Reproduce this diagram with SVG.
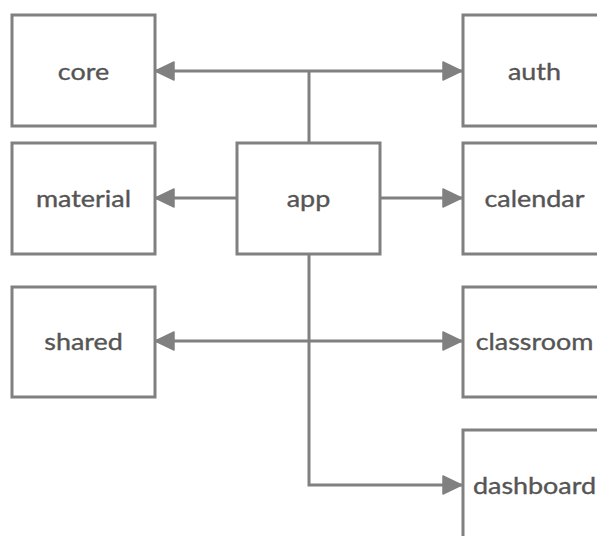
<svg xmlns="http://www.w3.org/2000/svg" width="597" height="536" viewBox="0 0 597 536">
  <style>
    .box { fill: #ffffff; stroke: #808080; stroke-width: 3; }
    .label { font-family: Lato, "Open Sans", sans-serif; font-size: 23px; fill: #555555; stroke: #555555; stroke-width: 0.35; text-anchor: middle; }
    .wire { fill: none; stroke: #808080; stroke-width: 3; }
  </style>
  <defs>
    <marker id="head" viewBox="0 0 20 20" refX="20" refY="10" markerWidth="20" markerHeight="20" markerUnits="userSpaceOnUse" orient="auto-start-reverse">
      <path d="M1,1 L20,10 L1,19 Z" fill="#808080" stroke="#808080" stroke-width="1.5" stroke-linejoin="round"/>
    </marker>
  </defs>
  <rect width="597" height="536" fill="#ffffff"/>

  <g id="connectors">
    <!-- core <-> auth, fed from app top -->
    <path class="wire" d="M155,71 L462,71" marker-start="url(#head)" marker-end="url(#head)"/>
    <path class="wire" d="M309,143 L309,71"/>
    <!-- app -> material / calendar -->
    <path class="wire" d="M237,198 L155,198" marker-end="url(#head)"/>
    <path class="wire" d="M380,198 L462,198" marker-end="url(#head)"/>
    <!-- shared <-> classroom -->
    <path class="wire" d="M155,341 L462,341" marker-start="url(#head)" marker-end="url(#head)"/>
    <!-- app -> dashboard -->
    <path class="wire" d="M309,254 L309,485 L462,485" marker-end="url(#head)"/>
  </g>

  <g id="core"><rect class="box" x="12" y="15" width="143" height="111"/><text class="label" transform="translate(83.5,79.5) scale(1.17,1)">core</text></g>
  <g id="auth"><rect class="box" x="463" y="15" width="143" height="111"/><text class="label" transform="translate(534.5,79.5) scale(1.17,1)">auth</text></g>
  <g id="material"><rect class="box" x="12" y="143" width="143" height="111"/><text class="label" transform="translate(83.5,206.5) scale(1.17,1)">material</text></g>
  <g id="app"><rect class="box" x="237" y="143" width="143" height="111"/><text class="label" transform="translate(308.5,206.5) scale(1.17,1)">app</text></g>
  <g id="calendar"><rect class="box" x="463" y="143" width="143" height="111"/><text class="label" transform="translate(534.5,206.5) scale(1.17,1)">calendar</text></g>
  <g id="shared"><rect class="box" x="12" y="287" width="143" height="110"/><text class="label" transform="translate(83.5,349.5) scale(1.17,1)">shared</text></g>
  <g id="classroom"><rect class="box" x="463" y="287" width="143" height="110"/><text class="label" transform="translate(534.5,349.5) scale(1.17,1)">classroom</text></g>
  <g id="dashboard"><rect class="box" x="463" y="430" width="143" height="111"/><text class="label" transform="translate(534.5,494) scale(1.17,1)">dashboard</text></g>
</svg>
